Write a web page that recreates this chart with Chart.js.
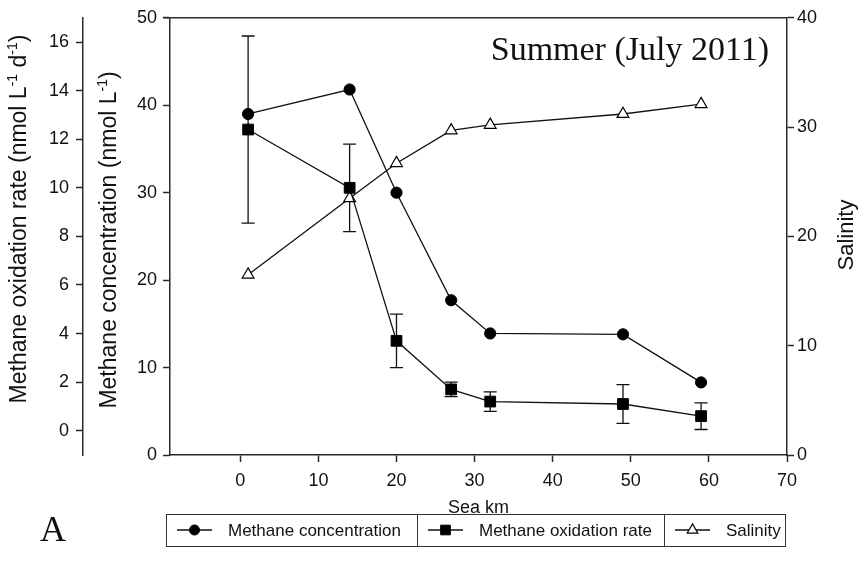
<!DOCTYPE html>
<html>
<head>
<meta charset="utf-8">
<script src="https://cdn.jsdelivr.net/npm/chart.js@4"></script>
<style>
  html, body { margin: 0; padding: 0; background: #fff; }
  #wrap { width: 865px; height: 563px; }
</style>
</head>
<body>
<div id="wrap"><canvas id="c" width="865" height="563"></canvas></div>
<script>
// Station distances along the sea transect (km)
const seaKm = [1, 14, 20, 27, 32, 49, 59];
// Methane concentration (nmol L-1)
const methaneConc = [39.0, 41.8, 30.0, 17.7, 13.9, 13.8, 8.3];
// Methane oxidation rate (nmol L-1 d-1) and its error
const oxRate = [12.4, 10.0, 3.7, 1.7, 1.2, 1.1, 0.6];
const oxRateErr = [3.85, 1.8, 1.1, 0.3, 0.4, 0.8, 0.55];
// Salinity
const salinity = [16.5, 23.5, 26.7, 29.7, 30.2, 31.2, 32.1];

// Tick labels
const xTicks = [0, 10, 20, 30, 40, 50, 60, 70];
const concTicks = [0, 10, 20, 30, 40, 50];
const oxTicks = [0, 2, 4, 6, 8, 10, 12, 14, 16];
const salTicks = [0, 10, 20, 30, 40];

const SANS = '"Liberation Sans", Arial, sans-serif';
const SERIF = '"Liberation Serif", "Times New Roman", serif';
const INK = '#111';
const AXIS = '#2a2a2a';

function toPoints(ys) { return seaKm.map((x, i) => ({ x: x, y: ys[i] })); }
function fixTicks(values) { return scale => { scale.ticks = values.map(v => ({ value: v })); }; }

const tickFont = { family: SANS, size: 18 };

// Axis titles with superscript units, drawn rotated (reading bottom to top)
const axisTitles = [
  { cx: 18, cy: 219, size: 23, parts: [['Methane oxidation rate (nmol L'], ['-1', true], [' d'], ['-1', true], [')']] },
  { cx: 108, cy: 240, size: 23, parts: [['Methane concentration (nmol L'], ['-1', true], [')']] },
  { cx: 845, cy: 235, size: 22, parts: [['Salinity']] }
];

function drawRotatedTitle(ctx, t) {
  const base = t.size + 'px ' + SANS, sup = '14px ' + SANS;
  let total = 0;
  t.parts.forEach(p => { ctx.font = p[1] ? sup : base; total += ctx.measureText(p[0]).width; });
  ctx.save();
  ctx.translate(t.cx, t.cy);
  ctx.rotate(-Math.PI / 2);
  ctx.fillStyle = INK;
  ctx.textAlign = 'left';
  ctx.textBaseline = 'alphabetic';
  let x = -total / 2;
  const baseY = 8;
  t.parts.forEach(p => {
    ctx.font = p[1] ? sup : base;
    ctx.fillText(p[0], x, p[1] ? baseY - 9 : baseY);
    x += ctx.measureText(p[0]).width;
  });
  ctx.restore();
}

// Error bars for the oxidation rate series
const errorBars = {
  id: 'errorBars',
  beforeDatasetsDraw(chart) {
    const { ctx } = chart;
    const xs = chart.scales.x, ys = chart.scales.yOx;
    ctx.save();
    ctx.strokeStyle = INK;
    ctx.lineWidth = 1.3;
    seaKm.forEach((km, i) => {
      const px = xs.getPixelForValue(km);
      const top = ys.getPixelForValue(oxRate[i] + oxRateErr[i]);
      const bot = ys.getPixelForValue(oxRate[i] - oxRateErr[i]);
      ctx.beginPath();
      ctx.moveTo(px, top); ctx.lineTo(px, bot);
      ctx.moveTo(px - 6.5, top); ctx.lineTo(px + 6.5, top);
      ctx.moveTo(px - 6.5, bot); ctx.lineTo(px + 6.5, bot);
      ctx.stroke();
    });
    ctx.restore();
  }
};

// Frame, captions and the boxed legend
const decorations = {
  id: 'decorations',
  afterDraw(chart) {
    const { ctx, chartArea } = chart;
    ctx.save();
    // top frame line
    ctx.strokeStyle = AXIS;
    ctx.lineWidth = 1.5;
    ctx.beginPath();
    ctx.moveTo(chartArea.left - 7, chartArea.top);
    ctx.lineTo(chartArea.right, chartArea.top);
    ctx.stroke();

    // axis titles
    axisTitles.forEach(t => drawRotatedTitle(ctx, t));

    // season caption
    ctx.fillStyle = INK;
    ctx.font = '34px ' + SERIF;
    ctx.textAlign = 'right';
    ctx.textBaseline = 'alphabetic';
    ctx.fillText('Summer (July 2011)', 769, 60);

    // panel letter
    ctx.font = '36px ' + SERIF;
    ctx.textAlign = 'center';
    ctx.textBaseline = 'middle';
    ctx.fillText('A', 53, 532);

    // legend box
    const edges = [166, 417, 664, 785];
    const top = 514, bottom = 546, mid = (top + bottom) / 2;
    ctx.strokeStyle = '#333';
    ctx.lineWidth = 1;
    ctx.strokeRect(edges[0] + 0.5, top + 0.5, edges[3] - edges[0], bottom - top);
    ctx.beginPath();
    ctx.moveTo(edges[1] + 0.5, top); ctx.lineTo(edges[1] + 0.5, bottom);
    ctx.moveTo(edges[2] + 0.5, top); ctx.lineTo(edges[2] + 0.5, bottom);
    ctx.stroke();
    chart.data.datasets.forEach((ds, i) => {
      const left = edges[i];
      ctx.strokeStyle = INK;
      ctx.lineWidth = 1.3;
      ctx.beginPath();
      ctx.moveTo(left + 11, mid); ctx.lineTo(left + 46, mid);
      ctx.stroke();
      ctx.fillStyle = ds.pointBackgroundColor;
      ctx.strokeStyle = ds.pointBorderColor;
      ctx.lineWidth = ds.pointBorderWidth;
      Chart.helpers.drawPoint(ctx, {
        pointStyle: ds.pointStyle, radius: ds.pointRadius * 0.9,
        rotation: 0, borderWidth: ds.pointBorderWidth
      }, left + 28.5, mid);
      ctx.fillStyle = INK;
      ctx.font = '17px ' + SANS;
      ctx.textAlign = 'left';
      ctx.textBaseline = 'middle';
      ctx.fillText(ds.label, left + 62, mid + 1);
    });
    ctx.restore();
  }
};

new Chart(document.getElementById('c'), {
  type: 'line',
  data: {
    datasets: [
      {
        label: 'Methane concentration',
        data: toPoints(methaneConc),
        yAxisID: 'yConc',
        borderColor: INK, borderWidth: 1.3,
        pointStyle: 'circle', pointRadius: 5.6,
        pointBackgroundColor: '#000', pointBorderColor: '#000', pointBorderWidth: 1
      },
      {
        label: 'Methane oxidation rate',
        data: toPoints(oxRate),
        yAxisID: 'yOx',
        borderColor: INK, borderWidth: 1.3,
        pointStyle: 'rect', pointRadius: 7.6,
        pointBackgroundColor: '#000', pointBorderColor: '#000', pointBorderWidth: 1
      },
      {
        label: 'Salinity',
        data: toPoints(salinity),
        yAxisID: 'ySal',
        borderColor: INK, borderWidth: 1.3,
        pointStyle: 'triangle', pointRadius: 6.8,
        pointBackgroundColor: '#fff', pointBorderColor: '#000', pointBorderWidth: 1.2
      }
    ]
  },
  options: {
    responsive: false,
    animation: false,
    devicePixelRatio: 1,
    layout: { padding: { top: 16, left: 0, right: 0, bottom: 38 } },
    plugins: { legend: { display: false }, tooltip: { enabled: false } },
    elements: { line: { tension: 0 } },
    scales: {
      x: {
        type: 'linear', position: 'bottom', min: -9, max: 70,
        afterBuildTicks: fixTicks(xTicks),
        afterFit: s => { s.height = 70; },
        grid: { drawOnChartArea: false, tickLength: 7, tickColor: AXIS, tickWidth: 1.5 },
        border: { color: AXIS, width: 1.5 },
        ticks: { font: tickFont, color: INK, padding: 8, maxRotation: 0, autoSkip: false },
        title: { display: true, text: 'Sea km', font: { family: SANS, size: 18 }, color: INK, padding: { top: 0, bottom: 6 } }
      },
      yOx: {
        type: 'linear', position: 'left', weight: 2, min: -1, max: 17,
        afterBuildTicks: fixTicks(oxTicks),
        afterFit: s => { s.width = 83; },
        grid: { drawOnChartArea: false, tickLength: 7, tickColor: AXIS, tickWidth: 1.5 },
        border: { color: AXIS, width: 1.5 },
        ticks: { font: tickFont, color: INK, padding: 7 }
      },
      yConc: {
        type: 'linear', position: 'left', weight: 1, min: 0, max: 50,
        afterBuildTicks: fixTicks(concTicks),
        afterFit: s => { s.width = 87; },
        grid: { drawOnChartArea: false, tickLength: 7, tickColor: AXIS, tickWidth: 1.5 },
        border: { color: AXIS, width: 1.5 },
        ticks: { font: tickFont, color: INK, padding: 6 }
      },
      ySal: {
        type: 'linear', position: 'right', min: 0, max: 40,
        afterBuildTicks: fixTicks(salTicks),
        afterFit: s => { s.width = 78; },
        grid: { drawOnChartArea: false, tickLength: 7, tickColor: AXIS, tickWidth: 1.5 },
        border: { color: AXIS, width: 1.5 },
        ticks: { font: tickFont, color: INK, padding: 3 }
      }
    }
  },
  plugins: [errorBars, decorations]
});
</script>
</body>
</html>
